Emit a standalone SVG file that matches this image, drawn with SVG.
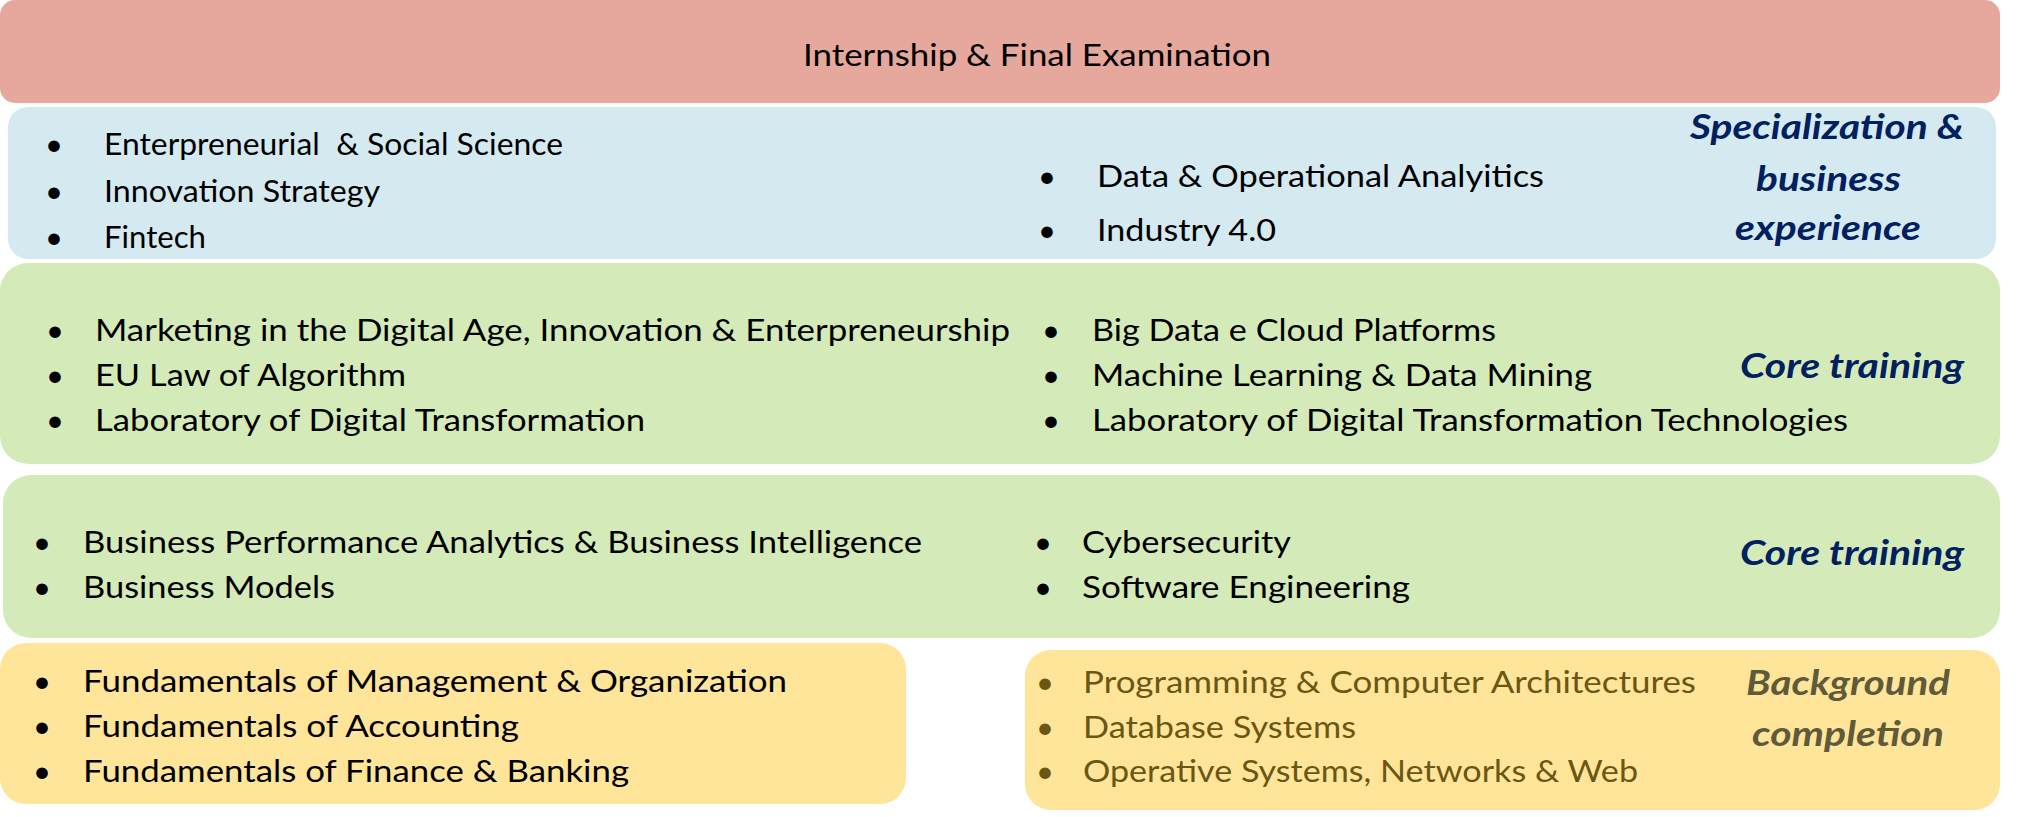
<svg xmlns="http://www.w3.org/2000/svg" width="2028" height="817" viewBox="0 0 2028 817">
<style>
text { font-family: Lato, "Open Sans", "Liberation Sans", sans-serif; }
.t { font-size: 31px; fill: #000000; }
.b { font-size: 31px; fill: #000000; }
.ty { font-size: 31px; fill: #6B5614; }
.by { font-size: 31px; fill: #6B5614; }
.lab { font-size: 34px; font-weight: bold; font-style: italic; fill: #002060; }
.labg { font-size: 35px; font-weight: bold; font-style: italic; fill: #5F5A3A; }
.red { fill: #E6A89D; }
.blue { fill: #D4EAF0; }
.green { fill: #D5EAB9; }
.yellow { fill: #FFE599; }
</style>
<rect width="2028" height="817" fill="#FFFFFF"/>
<g id="connectors"></g>
<g id="internship">
<rect class="red" x="0" y="0" width="2000" height="103" rx="15" ry="15"/>
<text class="t" x="803" y="66" textLength="468" lengthAdjust="spacingAndGlyphs">Internship &amp; Final Examination</text>
</g>
<g id="specialization">
<rect class="blue" x="8" y="107" width="1988" height="152" rx="20" ry="20"/>
<text class="b" x="45" y="155">•</text>
<text class="b" x="45" y="201.5">•</text>
<text class="b" x="45" y="247.5">•</text>
<text class="t" x="104" y="155" textLength="459" lengthAdjust="spacingAndGlyphs" xml:space="preserve">Enterpreneurial  &amp; Social Science</text>
<text class="t" x="104" y="201.5" textLength="276" lengthAdjust="spacingAndGlyphs">Innovation Strategy</text>
<text class="t" x="104" y="247.5" textLength="102" lengthAdjust="spacingAndGlyphs">Fintech</text>
<text class="b" x="1038" y="186.5">•</text>
<text class="b" x="1038" y="240.5">•</text>
<text class="t" x="1097" y="186.5" textLength="447" lengthAdjust="spacingAndGlyphs">Data &amp; Operational Analyitics</text>
<text class="t" x="1097" y="240.5" textLength="179" lengthAdjust="spacingAndGlyphs">Industry 4.0</text>
<text class="lab" x="1690" y="139" textLength="274" lengthAdjust="spacingAndGlyphs">Specialization &amp;</text>
<text class="lab" x="1756" y="190.5" textLength="145" lengthAdjust="spacingAndGlyphs">business</text>
<text class="lab" x="1735" y="240" textLength="186" lengthAdjust="spacingAndGlyphs">experience</text>
</g>
<g id="core1">
<rect class="green" x="0" y="263" width="2000" height="201" rx="28" ry="28"/>
<text class="b" x="46" y="340.5">•</text>
<text class="b" x="46" y="386">•</text>
<text class="b" x="46" y="430.5">•</text>
<text class="t" x="95" y="340.5" textLength="915" lengthAdjust="spacingAndGlyphs">Marketing in the Digital Age, Innovation &amp; Enterpreneurship</text>
<text class="t" x="95" y="386" textLength="311" lengthAdjust="spacingAndGlyphs">EU Law of Algorithm</text>
<text class="t" x="95" y="430.5" textLength="550" lengthAdjust="spacingAndGlyphs">Laboratory of Digital Transformation</text>
<text class="b" x="1042" y="340.5">•</text>
<text class="b" x="1042" y="386">•</text>
<text class="b" x="1042" y="430.5">•</text>
<text class="t" x="1092" y="340.5" textLength="404" lengthAdjust="spacingAndGlyphs">Big Data e Cloud Platforms</text>
<text class="t" x="1092" y="386" textLength="500" lengthAdjust="spacingAndGlyphs">Machine Learning &amp; Data Mining</text>
<text class="t" x="1092" y="430.5" textLength="756" lengthAdjust="spacingAndGlyphs">Laboratory of Digital Transformation Technologies</text>
<text class="lab" x="1740" y="378" textLength="224" lengthAdjust="spacingAndGlyphs">Core training</text>
</g>
<g id="core2">
<rect class="green" x="3" y="475" width="1997" height="163" rx="28" ry="28"/>
<text class="b" x="33" y="552.5">•</text>
<text class="b" x="33" y="597.5">•</text>
<text class="t" x="83" y="552.5" textLength="839" lengthAdjust="spacingAndGlyphs">Business Performance Analytics &amp; Business Intelligence</text>
<text class="t" x="83" y="597.5" textLength="252" lengthAdjust="spacingAndGlyphs">Business Models</text>
<text class="b" x="1034" y="552.5">•</text>
<text class="b" x="1034" y="597.5">•</text>
<text class="t" x="1082" y="552.5" textLength="209" lengthAdjust="spacingAndGlyphs">Cybersecurity</text>
<text class="t" x="1082" y="597.5" textLength="328" lengthAdjust="spacingAndGlyphs">Software Engineering</text>
<text class="lab" x="1740" y="565" textLength="224" lengthAdjust="spacingAndGlyphs">Core training</text>
</g>
<g id="fundamentals">
<rect class="yellow" x="0" y="643" width="906" height="161" rx="26" ry="26"/>
<text class="b" x="33" y="692">•</text>
<text class="b" x="33" y="737">•</text>
<text class="b" x="33" y="781.5">•</text>
<text class="t" x="83" y="692" textLength="704" lengthAdjust="spacingAndGlyphs">Fundamentals of Management &amp; Organization</text>
<text class="t" x="83" y="737" textLength="436" lengthAdjust="spacingAndGlyphs">Fundamentals of Accounting</text>
<text class="t" x="83" y="781.5" textLength="546" lengthAdjust="spacingAndGlyphs">Fundamentals of Finance &amp; Banking</text>
</g>
<g id="background">
<rect class="yellow" x="1025" y="650" width="975" height="160" rx="26" ry="26"/>
<text class="by" x="1036" y="693">•</text>
<text class="by" x="1036" y="737.5">•</text>
<text class="by" x="1036" y="781.5">•</text>
<text class="ty" x="1083" y="693" textLength="613" lengthAdjust="spacingAndGlyphs">Programming &amp; Computer Architectures</text>
<text class="ty" x="1083" y="737.5" textLength="273" lengthAdjust="spacingAndGlyphs">Database Systems</text>
<text class="ty" x="1083" y="781.5" textLength="555" lengthAdjust="spacingAndGlyphs">Operative Systems, Networks &amp; Web</text>
<text class="labg" x="1746" y="695" textLength="204" lengthAdjust="spacingAndGlyphs">Background</text>
<text class="labg" x="1752" y="746" textLength="192" lengthAdjust="spacingAndGlyphs">completion</text>
</g>
</svg>
